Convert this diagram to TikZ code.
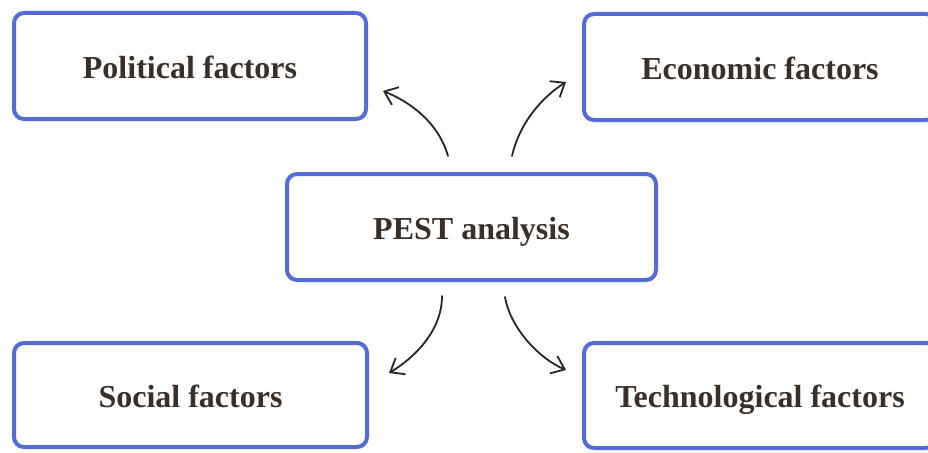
\documentclass[tikz,border=0pt]{standalone}
\usepackage{fontspec}
\setmainfont{Liberation Serif}
\usetikzlibrary{arrows.meta,calc}

\definecolor{boxblue}{RGB}{84,108,218}
\definecolor{labelink}{RGB}{58,48,40}
\definecolor{penink}{RGB}{38,38,38}

\tikzset{
  factorbox/.style={
    draw=boxblue, line width=4pt, rounded corners=10pt, fill=white,
    inner sep=0pt, text height=24pt, text depth=0pt,
    text=labelink, font=\fontsize{32}{38}\selectfont\bfseries
  },
  linkarrow/.style={
    draw=penink, line width=1.8pt, line cap=round,
    -{Straight Barb[length=12pt,width=19pt,line width=1.8pt]}
  }
}

\begin{document}
\begin{tikzpicture}[x=1pt,y=-1pt]
  \useasboundingbox[fill=white] (0,0) rectangle (928,452);

  % the four factor boxes and the central box
  \node[factorbox, minimum width=352pt, minimum height=106pt] (pol)  at (190,66)    {Political factors};
  \node[factorbox, minimum width=352pt, minimum height=106pt] (eco)  at (760,67)    {Economic factors};
  \node[factorbox, minimum width=369pt, minimum height=106pt] (pest) at (471.5,227) {PEST analysis};
  \node[factorbox, minimum width=353pt, minimum height=104pt] (soc)  at (190.5,395) {Social factors};
  \node[factorbox, minimum width=352pt, minimum height=105pt] (tech) at (760,395.5) {Technological factors};

  % arrow end points around the central box
  \coordinate (polstart)  at ($(pest.north)+(-23.5,-16)$);
  \coordinate (ecostart)  at ($(pest.north)+(40.5,-16)$);
  \coordinate (socstart)  at ($(pest.south)+(-29.5,14)$);
  \coordinate (techstart) at ($(pest.south)+(33.5,15)$);
  \coordinate (poltip)  at ($(pol.east)+(15,25)$);
  \coordinate (ecotip)  at ($(eco.west)+(-16,15)$);
  \coordinate (soctip)  at ($(soc.east)+(20,-22)$);
  \coordinate (techtip) at ($(tech.west)+(-16,-25.5)$);

  % curved arrows from the central box to each factor
  \draw[linkarrow] (polstart)  .. controls +(-10,-35) and +(25,10)   .. (poltip);
  \draw[linkarrow] (ecostart)  .. controls +(8,-35)   and +(-22,14)  .. (ecotip);
  \draw[linkarrow] (socstart)  .. controls +(0,35)    and +(25,-15)  .. (soctip);
  \draw[linkarrow] (techstart) .. controls +(5,30)    and +(-28,-12) .. (techtip);
\end{tikzpicture}
\end{document}
